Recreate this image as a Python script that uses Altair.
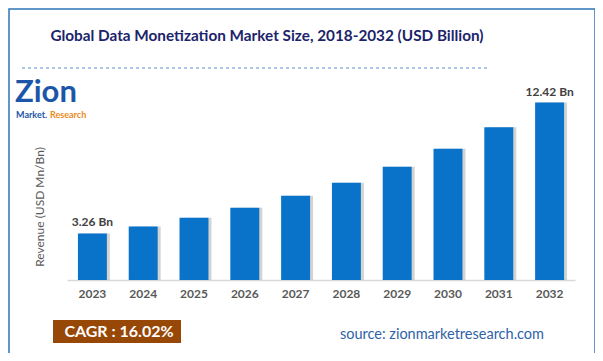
import altair as alt
import pandas as pd

years = ["2023", "2024", "2025", "2026", "2027", "2028", "2029", "2030", "2031", "2032"]
revenue = [3.26, 3.75, 4.36, 5.06, 5.89, 6.80, 7.93, 9.19, 10.69, 12.42]
bar_labels = ["3.26 Bn", "", "", "", "", "", "", "", "", "12.42 Bn"]

title_text = "Global Data Monetization Market Size, 2018-2032 (USD Billion)"
y_title = "Revenue (USD Mn/Bn)"
cagr_text = "CAGR :  16.02%"
source_text = "source: zionmarketresearch.com"

FONT = "Lato"
df = pd.DataFrame({"year": years, "revenue": revenue, "label": bar_labels})

W, H = 508, 200
xenc = alt.X("year:N", sort=years,
             scale=alt.Scale(paddingInner=0.43, paddingOuter=0.215),
             axis=alt.Axis(title=None, labelAngle=0, labelFont=FONT, labelFontSize=12,
                           labelFontWeight="bold", labelColor="#595959", labelPadding=8,
                           ticks=False, domainColor="#d9d9d9", domainWidth=1.5))
yenc = alt.Y("revenue:Q", scale=alt.Scale(domain=[0, 14], nice=False), axis=None)

base = alt.Chart(df)
shadow = base.mark_bar(xOffset=3, color="#9e9e9e", opacity=0.45).encode(x=xenc, y=yenc)
bars = base.mark_bar(color="#0873c9").encode(x=xenc, y=yenc)
labels = base.mark_text(dy=-11, font=FONT, fontSize=12, fontWeight="bold", color="#404040").encode(
    x=xenc, y=yenc, text="label:N")

one = pd.DataFrame({"k": [0]})
ob = alt.Chart(one)

border = ob.mark_rect(fill=None, stroke="#2e75b6", strokeWidth=1.5).encode(
    x=alt.value(-58), x2=alt.value(528), y=alt.value(-71), y2=alt.value(276))
title = ob.mark_text(font=FONT, fontSize=15.3, fontWeight="bold", color="#1b246a").encode(
    x=alt.value(200), y=alt.value(-44), text=alt.value(title_text))
dash = ob.mark_rule(color="#5b8fd0", strokeDash=[3, 3], strokeWidth=1).encode(
    x=alt.value(-45), x2=alt.value(420), y=alt.value(-12))
logo1 = ob.mark_text(font=FONT, fontSize=31, fontWeight="bold", color="#1d56a8", align="left").encode(
    x=alt.value(-52), y=alt.value(13), text=alt.value("Zion"))
logo2 = ob.mark_text(font=FONT, fontSize=9, fontWeight="bold", color="#1d56a8", align="left").encode(
    x=alt.value(-51), y=alt.value(35), text=alt.value("Market."))
logo3 = ob.mark_text(font=FONT, fontSize=9, fontWeight="bold", color="#e98a1c", align="left").encode(
    x=alt.value(-17), y=alt.value(35), text=alt.value("Research"))
ytitle = ob.mark_text(font=FONT, fontSize=12, color="#595959", angle=270).encode(
    x=alt.value(-27), y=alt.value(127), text=alt.value(y_title))
cagr_box = ob.mark_rect(color="#974706").encode(
    x=alt.value(-14), x2=alt.value(114), y=alt.value(240), y2=alt.value(263))
cagr = ob.mark_text(font=FONT, fontSize=16, fontWeight="bold", color="white").encode(
    x=alt.value(52), y=alt.value(252), text=alt.value(cagr_text))
source = ob.mark_text(font=FONT, fontSize=14.5, color="#2f62a8").encode(
    x=alt.value(375), y=alt.value(255), text=alt.value(source_text))

chart = alt.layer(shadow, bars, labels, border, title, dash, logo1, logo2, logo3,
                  ytitle, cagr_box, cagr, source).properties(
    width=W, height=H,
    autosize=alt.AutoSizeParams(type="none"),
    padding={"left": 59, "top": 72, "right": 20, "bottom": 73},
    background="white",
).configure_view(stroke=None)

chart.save("out.html", embed_options={"renderer": "svg", "actions": False})
